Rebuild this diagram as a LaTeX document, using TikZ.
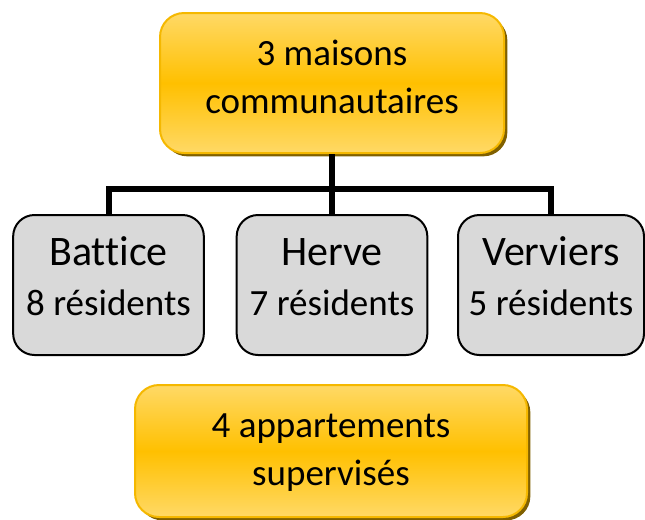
\documentclass[tikz,border=0pt]{standalone}
\usepackage{fontspec}
\setmainfont{Carlito}[Ligatures=NoCommon]
\usetikzlibrary{shadows}
\definecolor{orLight}{HTML}{FFD966}
\definecolor{orMid}{HTML}{FFC000}
\definecolor{orBorder}{HTML}{F5B800}
\definecolor{orShadow}{HTML}{806000}
\definecolor{grisSite}{HTML}{D9D9D9}

\begin{document}
\begin{tikzpicture}[
        x=0.75pt, y=-0.75pt,
        Maison/.style={rounded corners=18pt, draw=orBorder, line width=1.5pt,
            top color=orLight, bottom color=orLight, middle color=orMid,
            drop shadow={shadow xshift=2.5pt, shadow yshift=-2.5pt, fill=orShadow, opacity=1},
            align=center, inner sep=0pt, text height=58.5pt, font=\fontsize{27.75}{36}\selectfont},
        Site/.style={rounded corners=16pt, draw=black, line width=1.5pt, fill=grisSite,
            minimum width=143pt, minimum height=105pt, text height=61.5pt, text depth=16.5pt,
            align=center, inner sep=0pt, font=\fontsize{27.75}{37.5}\selectfont},
        Lien/.style={line width=4.5pt},
    ]
    \newcommand{\ville}[1]{{\fontsize{31.5}{37.5}\selectfont #1}}
    \useasboundingbox (0,0) rectangle (645,519);

    \node[Maison, minimum width=258pt, minimum height=105pt, text depth=13.5pt] (maisons) at (332,83) {3 maisons\\communautaires};

    \node[Site] (battice) at (108.5,285) {\ville{Battice}\\8 résidents};
    \node[Site] (herve) at (332,285) {\ville{Herve}\\7 résidents};
    \node[Site, minimum width=139.5pt] (verviers) at (551,285) {\ville{Verviers}\\5 résidents};

    \node[Maison, minimum width=294pt, minimum height=99pt, text depth=7.5pt] (appart) at (331,451) {4 appartements\\supervisés};

    \coordinate (bus) at (332,189);
    \draw[Lien] (maisons.south) -- (herve.north);
    \draw[Lien] (battice.north) |- (bus) -| (verviers.north);
\end{tikzpicture}
\end{document}
